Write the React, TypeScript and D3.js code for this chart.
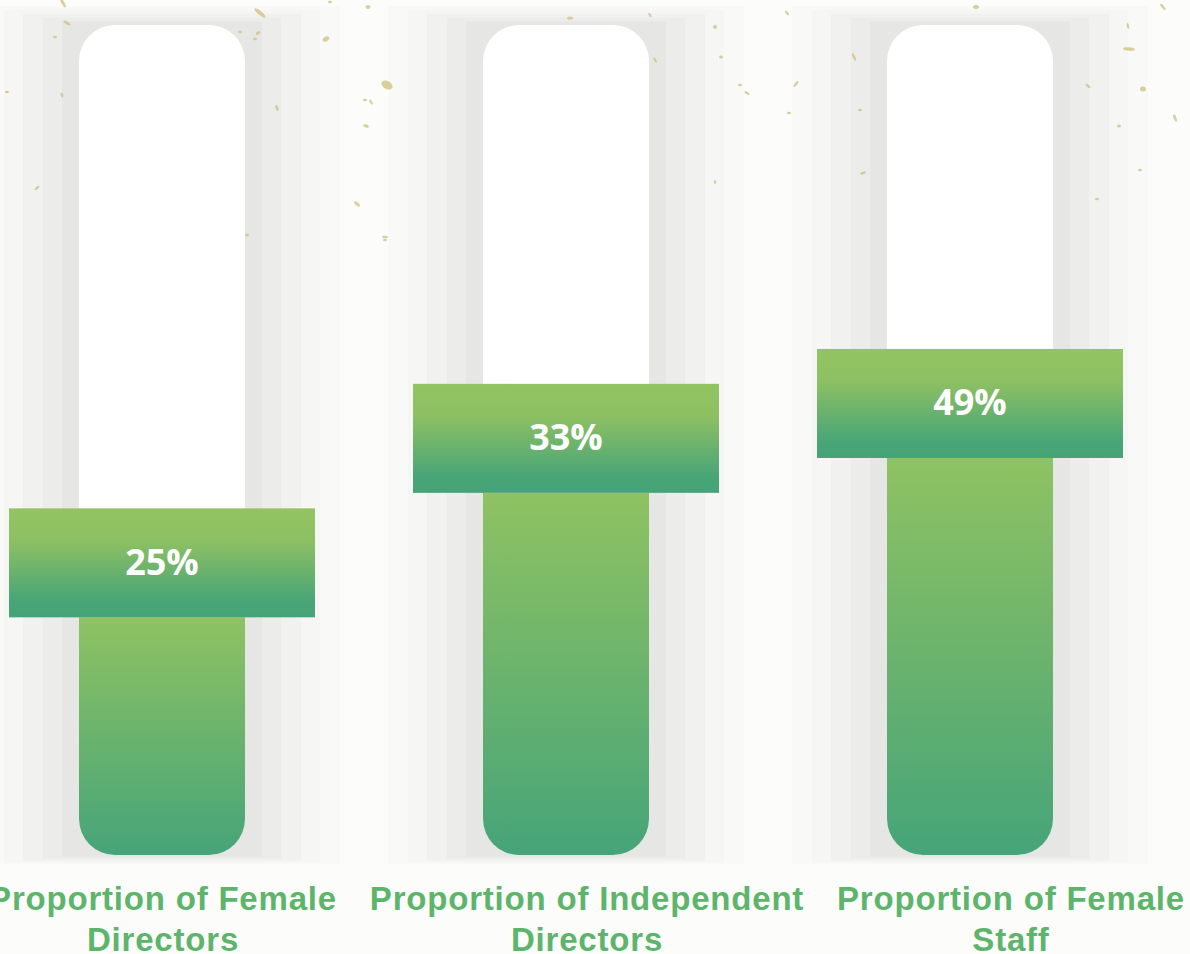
import React from "react";
import * as d3 from "d3";

const categories = ["Female Directors", "Independent Directors", "Female Staff"];
const labelLines = [
  ["Proportion of Female", "Directors"],
  ["Proportion of Independent", "Directors"],
  ["Proportion of Female", "Staff"],
];
const values = [25, 33, 49];
// marker level (centre of the label box) as a fraction of the track height
const markerLevels = [0.352, 0.502, 0.544];

const specks: [number, number, number, number, number][] = [
  [63, 3, 5, 1.5, 60], [67, 23, 4, 1.3, 30], [55, 37, 2, 1.2, 0], [62, 95, 2.5, 1.2, 70],
  [7, 92, 2, 1.2, 0], [37, 188, 3, 1.2, -40], [260, 13, 7, 2, 40], [240, 32, 2, 1.2, 0],
  [258, 33, 2.5, 1.5, -30], [255, 39, 2, 1.2, 0], [277, 108, 3, 1.5, 70], [247, 235, 2, 1.5, 0],
  [326, 39, 3.5, 2.2, -30], [368, 7, 2.5, 2, 0], [387, 85, 6, 4, 30], [371, 102, 3, 1.2, 60],
  [366, 126, 3, 1.5, 20], [357, 204, 3.5, 1.5, 40], [385, 237, 3, 1.2, 0], [330, 2, 2, 1.2, 0],
  [715, 27, 2, 2, 0], [787, 13, 3, 1.2, 50], [721, 57, 2, 1.5, 0], [854, 57, 4, 1.3, 65],
  [796, 84, 3.5, 1.3, -50], [747, 93, 3, 1.2, 30], [789, 113, 2, 1.3, 0], [863, 173, 3, 1.3, -20],
  [715, 182, 2, 1.2, 80], [976, 7, 3, 2, 0], [1163, 7, 4, 1.3, 50], [1128, 26, 3, 1.2, 80],
  [1129, 49, 6, 1.8, 5], [1143, 89, 3, 2.5, 0], [1175, 118, 4, 1.4, 70], [1119, 126, 2, 1.5, 0],
  [1088, 86, 3, 1.2, 40], [1097, 199, 2, 1.2, 0], [570, 18, 3, 1.5, 0], [650, 15, 2.5, 1.2, 60],
  [365, 100, 2, 1.2, 0], [655, 60, 3, 1.2, 60], [740, 85, 2, 1.2, 0], [860, 110, 2, 1.2, 0],
  [385, 240, 2, 1.2, 0], [910, 250, 2, 1.2, 0], [1140, 170, 2, 1.2, 0],
];

const W = 1190;
const H = 954;

export default function App() {
  const trackW = 166;
  const boxW = 306;
  const boxH = 109;
  const trackR = 36;

  const xBar = d3.scalePoint<string>().domain(categories).range([162, 970]);
  const xLabel = d3.scalePoint<string>().domain(categories).range([163, 1011]);
  const y = d3.scaleLinear().domain([0, 1]).range([855, 25]);

  const trackTop = y(1);
  const trackBottom = y(0);
  const trackH = trackBottom - trackTop;

  const shadowBands = [
    { d: 95, c: "#f9f9f7" },
    { d: 75, c: "#f6f6f4" },
    { d: 56, c: "#f1f1f0" },
    { d: 36, c: "#ececeb" },
    { d: 17, c: "#e6e6e5" },
  ];

  const fillPath = (cx: number, top: number) => {
    const x0 = cx - trackW / 2;
    const x1 = cx + trackW / 2;
    const b = trackBottom;
    const r = trackR;
    return `M${x0},${top}H${x1}V${b - r}A${r},${r} 0 0 1 ${x1 - r},${b}H${x0 + r}A${r},${r} 0 0 1 ${x0},${b - r}Z`;
  };

  return (
    <svg
      width={W}
      height={H}
      viewBox={`0 0 ${W} ${H}`}
      style={{ position: "absolute", left: 0, top: 0, display: "block" }}
    >
      <defs>
        <linearGradient id="fillGrad" x1="0" y1="0" x2="0" y2="1">
          <stop offset="0" stopColor="#8fc262" />
          <stop offset="1" stopColor="#46a479" />
        </linearGradient>
        <linearGradient id="boxGrad" x1="0" y1="0" x2="0" y2="1">
          <stop offset="0" stopColor="#93c462" />
          <stop offset="0.3" stopColor="#8dc063" />
          <stop offset="0.85" stopColor="#48a577" />
          <stop offset="1" stopColor="#46a377" />
        </linearGradient>
      </defs>
      <rect x={0} y={0} width={W} height={H} fill="#fcfcfa" />
      {categories.map((c) => {
        const cx = xBar(c)!;
        return (
          <g key={"sh" + c}>
            {shadowBands.map((b) => (
              <rect
                key={b.d}
                x={cx - trackW / 2 - b.d}
                y={trackTop - b.d * 0.2}
                width={trackW + 2 * b.d}
                height={trackH + b.d * 0.3}
                fill={b.c}
              />
            ))}
          </g>
        );
      })}
      {specks.map(([sx, sy, rx, ry, rot], i) => (
        <ellipse
          key={"s" + i}
          cx={sx}
          cy={sy}
          rx={rx}
          ry={ry}
          fill="#cdbf7c"
          opacity={0.75}
          transform={`rotate(${rot},${sx},${sy})`}
        />
      ))}
      {categories.map((c, i) => {
        const cx = xBar(c)!;
        const mid = y(markerLevels[i]);
        const boxTop = mid - boxH / 2;
        const boxBottom = mid + boxH / 2;
        return (
          <g key={c}>
            <rect
              x={cx - trackW / 2}
              y={trackTop}
              width={trackW}
              height={trackH}
              rx={trackR}
              fill="#ffffff"
            />
            <path d={fillPath(cx, boxBottom)} fill="url(#fillGrad)" />
            <rect x={cx - boxW / 2} y={boxTop} width={boxW} height={boxH} fill="url(#boxGrad)" />
            <text
              x={cx}
              y={mid + 12}
              textAnchor="middle"
              fill="#ffffff"
              fontFamily="'Open Sans', 'Noto Sans', sans-serif"
              fontWeight={700}
              fontSize={36}
            >
              {values[i]}%
            </text>
          </g>
        );
      })}
      {categories.map((c, i) => (
        <text
          key={"l" + c}
          x={xLabel(c)!}
          textAnchor="middle"
          fill="#5db56c"
          fontFamily="'Liberation Sans', Arial, sans-serif"
          fontWeight={700}
          fontSize={33}
          letterSpacing={0.8}
        >
          {labelLines[i].map((ln, j) => (
            <tspan key={j} x={xLabel(c)!} y={910 + j * 41}>
              {ln}
            </tspan>
          ))}
        </text>
      ))}
    </svg>
  );
}
